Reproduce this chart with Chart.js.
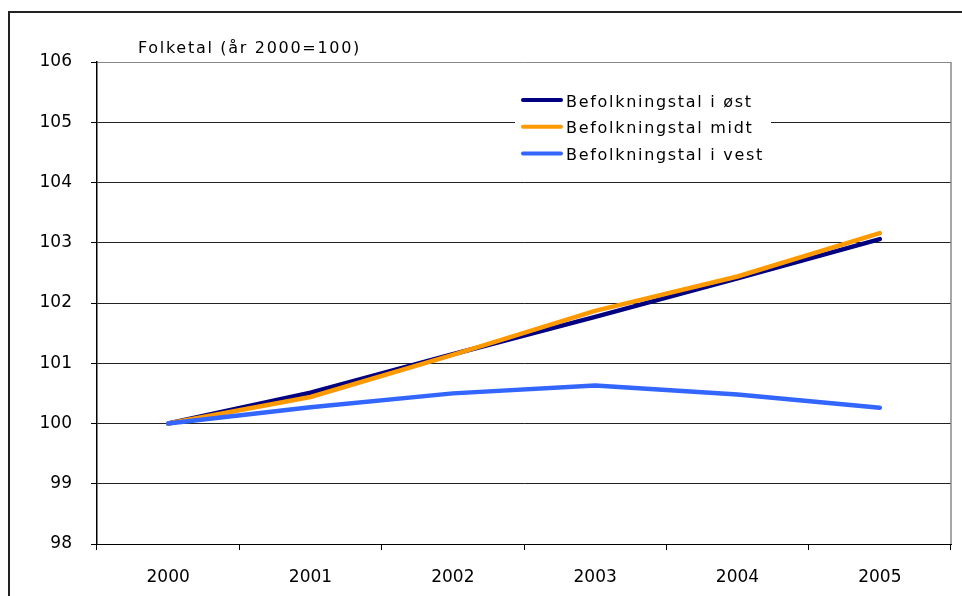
<!DOCTYPE html>
<html>
<head>
<meta charset="utf-8">
<script src="https://cdn.jsdelivr.net/npm/chart.js@4.4.1/dist/chart.umd.min.js"></script>
<style>
  html, body { margin: 0; padding: 0; background: #fff; }
  #wrap { position: relative; width: 962px; height: 596px; }
</style>
</head>
<body>
<div id="wrap"><canvas id="chart" width="962" height="596"></canvas></div>
<script>
const years = ['2000', '2001', '2002', '2003', '2004', '2005'];
const ost = [100, 100.51, 101.15, 101.77, 102.41, 103.06];
const midt = [100, 100.44, 101.14, 101.87, 102.44, 103.16];
const vest = [100, 100.27, 100.50, 100.63, 100.48, 100.26];
const seriesNames = ['Befolkningstal i øst', 'Befolkningstal midt', 'Befolkningstal i vest'];
const axisTitle = 'Folketal (år 2000=100)';

const FONT = 'DejaVu Sans';

// ramme, aksetittel og forklaring tegnes for hand
const decorPlugin = {
  id: 'decor',
  beforeInit(chart) {
    chart.ctx.letterSpacing = '1px';
  },
  beforeDraw(chart) {
    const ctx = chart.ctx;
    ctx.save();
    ctx.strokeStyle = '#222';
    ctx.lineWidth = 2;
    ctx.beginPath();
    ctx.moveTo(9, 596);
    ctx.lineTo(9, 12);
    ctx.lineTo(962, 12);
    ctx.stroke();
    ctx.restore();
  },
  afterDatasetsDraw(chart) {
    const ctx = chart.ctx;
    const area = chart.chartArea;
    ctx.save();
    // høyre kant
    ctx.strokeStyle = '#888';
    ctx.lineWidth = 1.5;
    ctx.beginPath();
    ctx.moveTo(area.right, area.top);
    ctx.lineTo(area.right, area.bottom);
    ctx.stroke();

    // aksetittel
    ctx.letterSpacing = '1.7px';
    ctx.fillStyle = '#000';
    ctx.font = '16px "' + FONT + '"';
    ctx.textAlign = 'left';
    ctx.textBaseline = 'middle';
    ctx.fillText(axisTitle, area.left + 41, area.top - 13);

    // forklaring
    const lx = 515, ly = 88;
    ctx.fillStyle = '#fff';
    ctx.fillRect(lx, ly, 256, 80);
    chart.data.datasets.forEach((ds, i) => {
      const y = 100 + i * 26.7;
      ctx.strokeStyle = ds.borderColor;
      ctx.lineWidth = 4;
      ctx.lineCap = 'round';
      ctx.beginPath();
      ctx.moveTo(523, y);
      ctx.lineTo(561, y);
      ctx.stroke();
      ctx.fillStyle = '#000';
      ctx.fillText(ds.label, 566, y + 2.5);
    });
    ctx.restore();
  }
};

const ctx = document.getElementById('chart').getContext('2d');
new Chart(ctx, {
  type: 'line',
  data: {
    labels: years,
    datasets: [
      { label: seriesNames[0], data: ost, borderColor: '#000080', order: 3 },
      { label: seriesNames[1], data: midt, borderColor: '#FF9900', order: 2 },
      { label: seriesNames[2], data: vest, borderColor: '#3366FF', order: 1 },
    ].map((d) => ({
      ...d,
      borderWidth: 4.5,
      pointRadius: 0,
      pointHoverRadius: 0,
      borderCapStyle: 'round',
      borderJoinStyle: 'round',
      tension: 0,
      fill: false,
    })),
  },
  options: {
    responsive: false,
    animation: false,
    events: [],
    layout: { padding: { top: 62, right: 11, bottom: 0, left: 0 } },
    plugins: {
      legend: { display: false },
      tooltip: { enabled: false },
      title: { display: false },
    },
    scales: {
      x: {
        offset: true,
        grid: {
          offset: true,
          drawOnChartArea: false,
          drawTicks: true,
          tickLength: 6,
          color: '#000',
        },
        border: { color: '#000', width: 1 },
        ticks: {
          color: '#000',
          font: { family: FONT, size: 17 },
          padding: 17,
          maxRotation: 0,
        },
        afterFit(scale) { scale.height = 52; },
      },
      y: {
        min: 98,
        max: 106,
        grid: {
          color: (c) => (c.tick && c.tick.value === 106 ? '#888' : '#222'),
          tickColor: '#000',
          tickLength: 6,
          lineWidth: 1,
        },
        border: { color: '#000', width: 1.5 },
        ticks: {
          stepSize: 1,
          color: '#000',
          font: { family: FONT, size: 17 },
          padding: 19,
        },
        afterFit(scale) { scale.width = 97; },
      },
    },
  },
  plugins: [decorPlugin],
});
</script>
</body>
</html>
